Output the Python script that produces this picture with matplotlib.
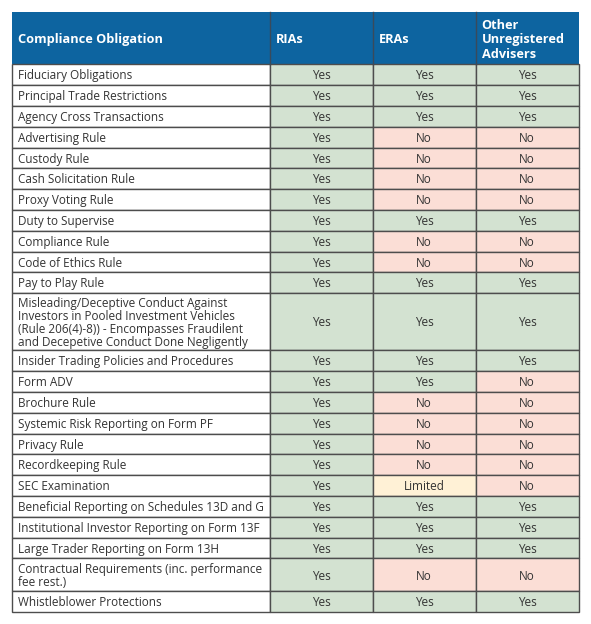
import matplotlib.pyplot as plt
from matplotlib.patches import Rectangle

# Data
obligations = [
    "Fiduciary Obligations",
    "Principal Trade Restrictions",
    "Agency Cross Transactions",
    "Advertising Rule",
    "Custody Rule",
    "Cash Solicitation Rule",
    "Proxy Voting Rule",
    "Duty to Supervise",
    "Compliance Rule",
    "Code of Ethics Rule",
    "Pay to Play Rule",
    "Misleading/Deceptive Conduct Against\nInvestors in Pooled Investment Vehicles\n(Rule 206(4)-8)) - Encompasses Fraudilent\nand Decepetive Conduct Done Negligently",
    "Insider Trading Policies and Procedures",
    "Form ADV",
    "Brochure Rule",
    "Systemic Risk Reporting on Form PF",
    "Privacy Rule",
    "Recordkeeping Rule",
    "SEC Examination",
    "Beneficial Reporting on Schedules 13D and G",
    "Institutional Investor Reporting on Form 13F",
    "Large Trader Reporting on Form 13H",
    "Contractual Requirements (inc. performance\nfee rest.)",
    "Whistleblower Protections",
]
rias = ["Yes"] * 24
eras = ["Yes", "Yes", "Yes", "No", "No", "No", "No", "Yes", "No", "No", "Yes", "Yes",
        "Yes", "Yes", "No", "No", "No", "No", "Limited", "Yes", "Yes", "Yes", "No", "Yes"]
others = ["Yes", "Yes", "Yes", "No", "No", "No", "No", "Yes", "No", "No", "Yes", "Yes",
          "Yes", "No", "No", "No", "No", "No", "No", "Yes", "Yes", "Yes", "No", "Yes"]
headers = ["Compliance Obligation", "RIAs", "ERAs", "Other\nUnregistered\nAdvisers"]

fills = {"Yes": "#d3e2d1", "No": "#fbded6", "Limited": "#fff1d6"}
header_blue = "#0d64a0"
line_col = "#4d4d4d"
text_col = "#333333"

plt.rcParams['font.family'] = ['Open Sans', 'DejaVu Sans']

fig = plt.figure(figsize=(5.91, 6.24), dpi=100)
ax = fig.add_axes([0, 0, 1, 1])
ax.set_xlim(0, 591)
ax.set_ylim(624, 0)
ax.axis("off")

cols = [11.5, 269.5, 372.5, 475.5, 578.5]
top, head_h = 12.3, 52.0

# header
ax.add_patch(Rectangle((cols[0], top), cols[-1] - cols[0], head_h, facecolor=header_blue,
                       edgecolor="none"))
for i, h in enumerate(headers):
    ax.text(cols[i] + 6, top + head_h / 2 + 1.5, h, color="white", fontsize=9.2,
            fontweight="bold", va="center", ha="left", linespacing=1.15)

# body
y = top + head_h
for lab, a, b, c in zip(obligations, rias, eras, others):
    n = lab.count("\n") + 1
    h = 8.65 + 12.15 * n
    ax.add_patch(Rectangle((cols[0], y), cols[1] - cols[0], h, facecolor="white",
                           edgecolor=line_col, linewidth=1.0))
    ax.text(cols[0] + 6, y + h / 2 + 1.2, lab, color=text_col, fontsize=8.5,
            va="center", ha="left", linespacing=1.02)
    for j, v in enumerate([a, b, c]):
        x0 = cols[j + 1]
        ax.add_patch(Rectangle((x0, y), cols[j + 2] - x0, h, facecolor=fills[v],
                               edgecolor=line_col, linewidth=1.0))
        ax.text((x0 + cols[j + 2]) / 2, y + h / 2 + 1.2, v, color=text_col, fontsize=8.5,
                va="center", ha="center")
    y += h

# header column dividers
for x in cols[1:-1]:
    ax.plot([x, x], [top, top + head_h], color="#3a4a5a", linewidth=1.0)

fig.savefig("out.png", dpi=100)
